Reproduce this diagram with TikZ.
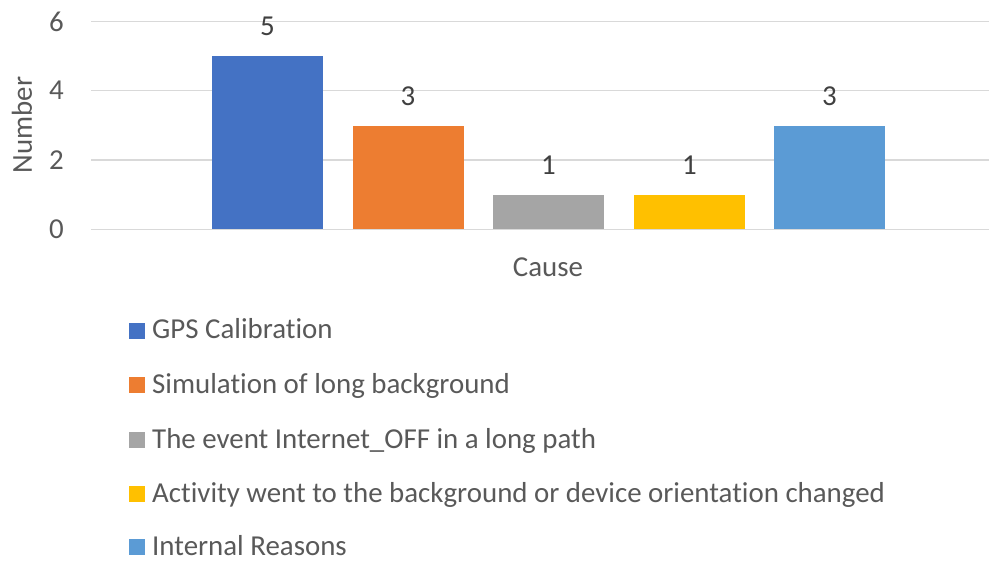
\documentclass[tikz,border=0pt]{standalone}
\usepackage{fontspec}
\setmainfont{Carlito}[Ligatures=NoCommon]
\definecolor{cblue}{HTML}{4472C4}
\definecolor{corange}{HTML}{ED7D31}
\definecolor{cgray}{HTML}{A5A5A5}
\definecolor{cgold}{HTML}{FFC000}
\definecolor{clblue}{HTML}{5B9BD5}
\definecolor{grid}{HTML}{D9D9D9}
\definecolor{txt}{HTML}{595959}
\definecolor{vtxt}{HTML}{404040}
\begin{document}
\begin{tikzpicture}[x=1bp,y=-1bp,
  gridline/.style={draw=grid,line width=1.5bp},
  tick/.style={text=txt,anchor=east,font=\fontsize{29}{33}\selectfont,inner sep=0pt},
  val/.style={text=vtxt,font=\fontsize{29}{33}\selectfont,inner sep=0pt},
  axtitle/.style={text=txt,font=\fontsize{29}{33}\selectfont,inner sep=0pt},
  legsq/.style={minimum size=16bp,inner sep=0pt,outer sep=0pt},
  legtxt/.style={text=txt,anchor=base west,font=\fontsize{29}{33}\selectfont,inner sep=0pt}]
\useasboundingbox (0,0) rectangle (998,561);
% grid
\foreach \yy/\lab in {229.5/0,160/2,90.7/4,21.5/6}{
  \draw[gridline] (91,\yy) -- (989,\yy);
  \node[tick] at (64,\yy) {\lab};
}
% bars
\fill[cblue]   (212,56)  rectangle (323,229.5);
\fill[corange] (353,126) rectangle (464,229.5);
\fill[cgray]   (493,195) rectangle (604,229.5);
\fill[cgold]   (634,195) rectangle (745,229.5);
\fill[clblue]  (774,126) rectangle (885,229.5);
% values
\node[val] (v1) at (267.5,26) {5};
\node[val] (v2) at (408,96) {3};
\node[val] (v3) at (548.5,165) {1};
\node[val] (v4) at (689.5,165) {1};
\node[val] (v5) at (829.5,96) {3};
% axis titles
\node[axtitle,rotate=90] (yt) at (22,125) {Number};
\node[axtitle] (xt) at (548,267) {Cause};
% legend
\foreach \yy/\c/\t [count=\i] in {339/cblue/GPS Calibration,393/corange/Simulation of long background,448/cgray/The event Internet\_OFF in a long path,502/cgold/Activity went to the background or device orientation changed,555/clblue/Internal Reasons}{
  \node[legsq,fill=\c] (s\i) at (137,\yy-8) {};
  \node[legtxt] (l\i) at (152,\yy) {\t};
}
\end{tikzpicture}
\end{document}
